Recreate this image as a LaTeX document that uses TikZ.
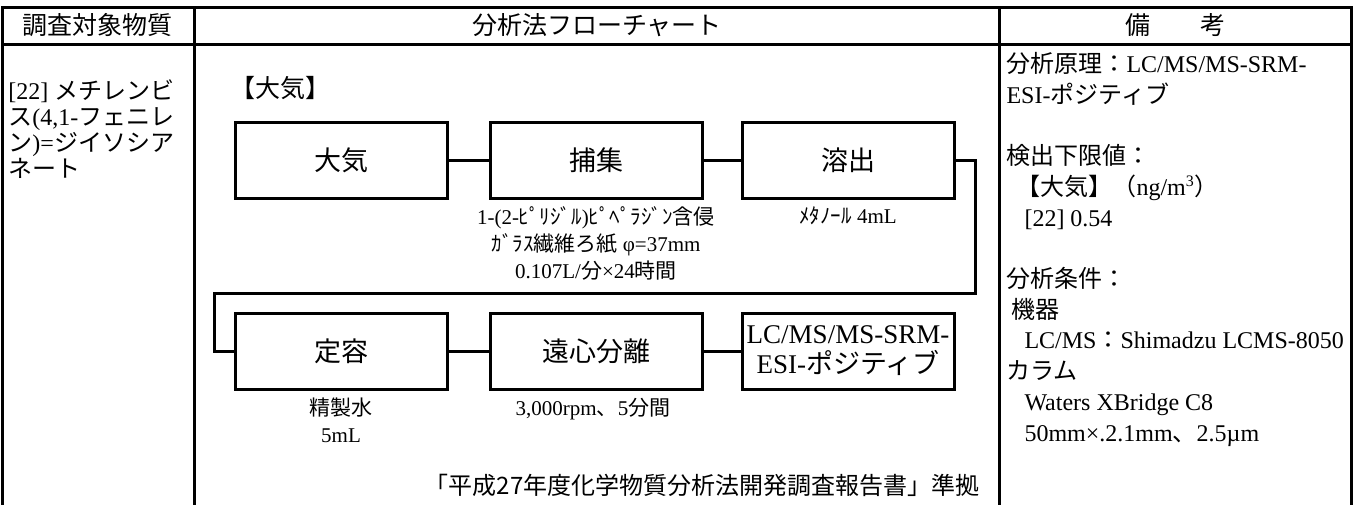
\documentclass[tikz,border=0pt]{standalone}
\usepackage{fontspec}
\setmainfont{Liberation Serif}
\newfontfamily\jp{Noto Sans CJK JP}
\newcommand{\J}[1]{{\jp #1}}

\begin{document}
\begin{tikzpicture}[x=0.5pt,y=-0.5pt,line width=1.5pt,
		box/.style={draw,minimum width=106pt,minimum height=38pt,inner sep=0pt,align=center,font=\fontsize{13.5}{15}\selectfont},
		note/.style={align=center,inner sep=0pt,anchor=north,font=\fontsize{10.5}{13.5}\selectfont},
		head/.style={inner sep=0pt,font=\fontsize{12.5}{14}\selectfont}]

		\useasboundingbox (0,0) rectangle (1361,504);

		% table
		\draw (2,506) -- (2,7) -- (1351,7) -- (1351,506);
		\draw (2,44) -- (1351,44);
		\draw (194,7) -- (194,506);
		\draw (999,7) -- (999,506);

		\node[head] (hSubst) at (98,25) {\J{調査対象物質}};
		\node[head] (hFlow) at (597,25) {\J{分析法フローチャート}};
		\node[head] (hNote) at (1175,25) {\J{備　　考}};

		\node[anchor=north west,inner sep=0pt,align=left,font=\fontsize{12}{13}\selectfont] (subst) at (7,78)
			{[22] \J{メチレンビ}\\\J{ス}(4,1-\J{フェニレ}\\\J{ン})=\J{ジイソシア}\\\J{ネート}};

		\node[anchor=west,inner sep=0pt,font=\fontsize{12.5}{14}\selectfont] (medium) at (229,88) {\J{【大気】}};

		% flow
		\node[box] (taiki) at (341,160) {\J{大気}};
		\node[box] (hoshu) at (596,160) {\J{捕集}};
		\node[box] (yoshutsu) at (848,160) {\J{溶出}};
		\node[box] (teiyo) at (341,351) {\J{定容}};
		\node[box] (enshin) at (596,351) {\J{遠心分離}};
		\node[box] (lcms) at (848,351) {LC/MS/MS-SRM-\\ESI-\J{ポジティブ}};

		\node[note] (hoshuNote) at ([yshift=-3pt]hoshu.south)
			{1-(2-\J{ﾋﾟﾘｼﾞﾙ})\J{ﾋﾟﾍﾟﾗｼﾞﾝ含侵}\\\J{ｶﾞﾗｽ繊維ろ紙} φ=37mm\\0.107L/\J{分}×24\J{時間}};
		\node[note] (yoshutsuNote) at ([yshift=-3pt]yoshutsu.south) {\J{ﾒﾀﾉｰﾙ} 4mL};
		\node[note] (teiyoNote) at ([yshift=-3pt]teiyo.south) {\J{精製水}\\5mL};
		\node[note] (enshinNote) at ([xshift=-1.5pt,yshift=-3pt]enshin.south) {3,000rpm\J{、}5\J{分間}};

		\coordinate (turnR) at (975,293);
		\coordinate (turnL) at (214,293);

		\foreach \source/\dest in {taiki/hoshu, hoshu/yoshutsu, teiyo/enshin, enshin/lcms}
		\draw (\source) -- (\dest);
		\draw (yoshutsu.east) -| (turnR) -- (turnL) |- (teiyo.west);

		\node[anchor=east,inner sep=0pt,font=\fontsize{12}{14}\selectfont] (source) at (981,485)
			{\J{「平成27年度化学物質分析法開発調査報告書」準拠}};

		% remarks
		\node[anchor=north west,inner sep=0pt,align=left,font=\fontsize{12}{15.35}\selectfont] (remarks) at (1005,51)
			{\J{分析原理：}LC/MS/MS-SRM-\\
			ESI-\J{ポジティブ}\\[15.35pt]
			\J{検出下限値：}\\
			\hspace{5pt}\J{【大気】（}ng/m\textsuperscript{3}\J{）}\\
			\hspace{9pt}[22] 0.54\\[15.35pt]
			\J{分析条件：}\\
			\hspace{2.5pt}\J{機器}\\
			\hspace{9pt}LC/MS\J{：}Shimadzu LCMS-8050\\
			\J{カラム}\\
			\hspace{9pt}Waters XBridge C8\\
			\hspace{9pt}50mm×.2.1mm\J{、}2.5µm};

	\end{tikzpicture}
\end{document}
